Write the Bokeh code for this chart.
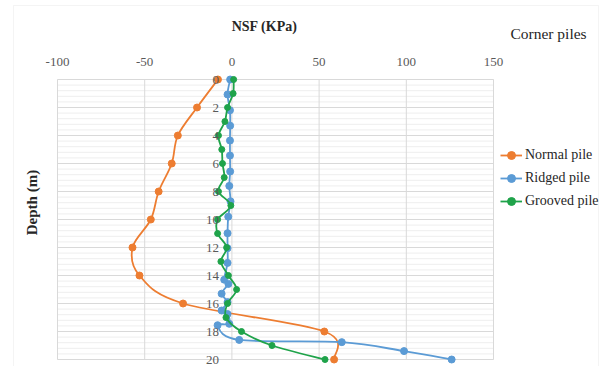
import numpy as np
from bokeh.plotting import figure
from bokeh.models import Range1d, FixedTicker, Legend, LegendItem, Label, BoxAnnotation
from bokeh.embed import file_html
from bokeh.resources import INLINE

# ---------------- data ----------------
normal_depth = [0, 2, 4, 6, 8, 10, 12, 14, 16, 18, 20]
normal_nsf = [-8, -20, -31, -34.5, -42, -46.5, -57, -53, -28, 53, 58.6]

ridged_depth = [0, 1.07, 2.2, 3.3, 4.36, 5.43, 6.57, 7.6, 8.7, 9.8, 10.98, 12.05, 13.1,
                14.3, 14.6, 15.3, 15.9, 16.5, 16.75, 17.45, 17.55, 18.6, 18.76, 19.4, 20.0]
ridged_nsf = [-1, -2.5, -1.1, -1, -1.1, -1.1, -1, -1.5, -0.8, -2.1, -2.5, -2.5, -2.5,
              -4.4, -2, -5.9, -2.5, -5.9, -2.5, -1.5, -8.2, 4.2, 63, 98.7, 126]

grooved_depth = [0, 1, 2, 3, 4, 5, 6, 7, 8, 9, 10, 11, 12, 13, 14, 15, 16, 17, 18, 19, 20]
grooved_nsf = [1, 0.7, -2.5, -4, -7.7, -5.8, -5.4, -4.4, -7.7, -0.6, -8.2, -8.2, -3, -6.3,
               -2, 2.7, -2.5, -3.4, 5.5, 23, 53.4]

x_ticks = [-100, -50, 0, 50, 100, 150]
x_tick_labels = {-100: "-100", -50: "-50", 0: "0", 50: "50", 100: "100", 150: "150"}
depth_ticks = [0, 2, 4, 6, 8, 10, 12, 14, 16, 18, 20]
depth_minor_step = 0.4

ORANGE = "#ED7D31"
BLUE = "#5B9BD5"
GREEN = "#1FA34A"
GRID = "#d9d9d9"
GRID_MINOR = "#eeeeee"
FONT = "Liberation Serif"
TXT = "#262626"
TICK_TXT = "#595959"


def smooth_segments(xs, ys):
    """Excel-like smoothed line: cubic Bezier control points (Catmull-Rom, 1/6)."""
    xs = np.asarray(xs, float)
    ys = np.asarray(ys, float)
    n = len(xs)
    d = dict(x0=[], y0=[], x1=[], y1=[], cx0=[], cy0=[], cx1=[], cy1=[])
    for i in range(n - 1):
        a = i - 1 if i > 0 else i
        b = i + 2 if i + 2 < n else i + 1
        d["x0"].append(xs[i]); d["y0"].append(ys[i])
        d["x1"].append(xs[i + 1]); d["y1"].append(ys[i + 1])
        d["cx0"].append(xs[i] + (xs[i + 1] - xs[a]) / 6)
        d["cy0"].append(ys[i] + (ys[i + 1] - ys[a]) / 6)
        d["cx1"].append(xs[i + 1] - (xs[b] - xs[i]) / 6)
        d["cy1"].append(ys[i + 1] - (ys[b] - ys[i]) / 6)
    return d


# The frame spans the whole canvas so that titles / legend are not clipped;
# the NSF range -100..150 and depth range 0..20 form the visible plot area.
W, H = 600, 366
PX_X = 436 / (x_ticks[-1] - x_ticks[0])      # px per kPa
PX_Y = 280 / (depth_ticks[-1] - depth_ticks[0])  # px per m
x_lo = x_ticks[0] - 57 / PX_X
x_hi = x_ticks[-1] + (W - 493) / PX_X
y_top = depth_ticks[0] - 79 / PX_Y
y_bot = depth_ticks[-1] + (H - 359) / PX_Y

p = figure(width=W, height=H, output_backend="svg", toolbar_location=None,
           title=None,
           x_range=Range1d(x_lo, x_hi), y_range=Range1d(y_bot, y_top),
           x_axis_location="above", y_axis_location="left",
           min_border=0, min_border_left=0, min_border_right=0,
           min_border_top=0, min_border_bottom=0)
p.outline_line_color = None
p.background_fill_color = "white"
p.border_fill_color = "white"
p.xgrid.visible = False
p.ygrid.visible = False

# light chart-area border (as in the source figure)
p.add_layout(BoxAnnotation(left=x_lo + 13 / PX_X, right=x_lo + 598 / PX_X,
                           top=y_top + 5 / PX_Y, bottom=y_bot + 2,
                           fill_alpha=0, line_color=GRID, line_width=1,
                           level="underlay"))

# x axis (tick labels above the plot area)
p.xaxis.fixed_location = -0.38
p.xaxis.ticker = FixedTicker(ticks=x_ticks)
p.xaxis.major_label_overrides = x_tick_labels
p.xaxis.axis_line_color = None
p.xaxis.major_tick_line_color = None
p.xaxis.minor_tick_line_color = None
p.xaxis.major_label_text_font = FONT
p.xaxis.major_label_text_font_size = "13px"
p.xaxis.major_label_text_color = TICK_TXT
p.xaxis.major_label_standoff = 2

# y axis drawn at NSF = 0
p.yaxis.fixed_location = 0
p.yaxis.ticker = FixedTicker(ticks=depth_ticks)
p.yaxis.axis_line_color = None
p.yaxis.major_tick_line_color = None
p.yaxis.minor_tick_line_color = None
p.yaxis.major_label_text_font = FONT
p.yaxis.major_label_text_font_size = "13px"
p.yaxis.major_label_text_color = TICK_TXT
p.yaxis.major_label_standoff = 7

# grid lines (from the tick lists), limited to the plot area
minor = [v for v in np.arange(depth_ticks[0], depth_ticks[-1] + 1e-9, depth_minor_step)]
p.segment(x0=[x_ticks[0]] * len(minor), y0=minor, x1=[x_ticks[-1]] * len(minor), y1=minor,
          line_color=GRID_MINOR, line_width=1, level="underlay")
p.segment(x0=[x_ticks[0]] * len(depth_ticks), y0=depth_ticks,
          x1=[x_ticks[-1]] * len(depth_ticks), y1=depth_ticks,
          line_color=GRID, line_width=1, level="underlay")
p.segment(x0=x_ticks, y0=[depth_ticks[0]] * len(x_ticks),
          x1=x_ticks, y1=[depth_ticks[-1]] * len(x_ticks),
          line_color=GRID, line_width=1, level="underlay")

series = [
    ("Normal pile", normal_nsf, normal_depth, ORANGE, 7),
    ("Ridged pile", ridged_nsf, ridged_depth, BLUE, 7),
    ("Grooved pile", grooved_nsf, grooved_depth, GREEN, 6),
]
items = []
for name, xs, ys, col, sz in series:
    seg = smooth_segments(xs, ys)
    rl = p.bezier(source=seg, x0="x0", y0="y0", x1="x1", y1="y1",
                  cx0="cx0", cy0="cy0", cx1="cx1", cy1="cy1",
                  line_color=col, line_width=1.8)
    rp = p.scatter(xs, ys, size=sz, fill_color=col, line_color=col)
    items.append(LegendItem(label=name, renderers=[rl, rp]))

# legend: bottom-left corner given in screen px from the frame's bottom-left
legend = Legend(items=items, location=(500, H - 211), padding=0, margin=0,
                border_line_color=None, background_fill_alpha=0,
                label_text_font=FONT, label_text_font_size="14px",
                label_text_color=TXT,
                glyph_width=22, glyph_height=20, label_height=20,
                spacing=3, label_standoff=3)
p.add_layout(legend, "center")

# chart texts
p.add_layout(Label(x=18.7, y=-3.79, text="NSF (KPa)", text_font=FONT,
                   text_font_size="14px", text_font_style="bold",
                   text_color=TXT, text_align="center", text_baseline="middle"))
p.add_layout(Label(x=159.7, y=-3.32, text="Corner piles", text_font=FONT,
                   text_font_size="15.5px", text_color=TXT,
                   text_align="left", text_baseline="middle"))
p.add_layout(Label(x=-114.6, y=8.79, text="Depth (m)", text_font=FONT,
                   text_font_size="15px", text_font_style="bold",
                   text_color=TXT, text_align="center", text_baseline="middle",
                   angle=np.pi / 2))

open("out.html", "w").write(file_html(p, INLINE))
